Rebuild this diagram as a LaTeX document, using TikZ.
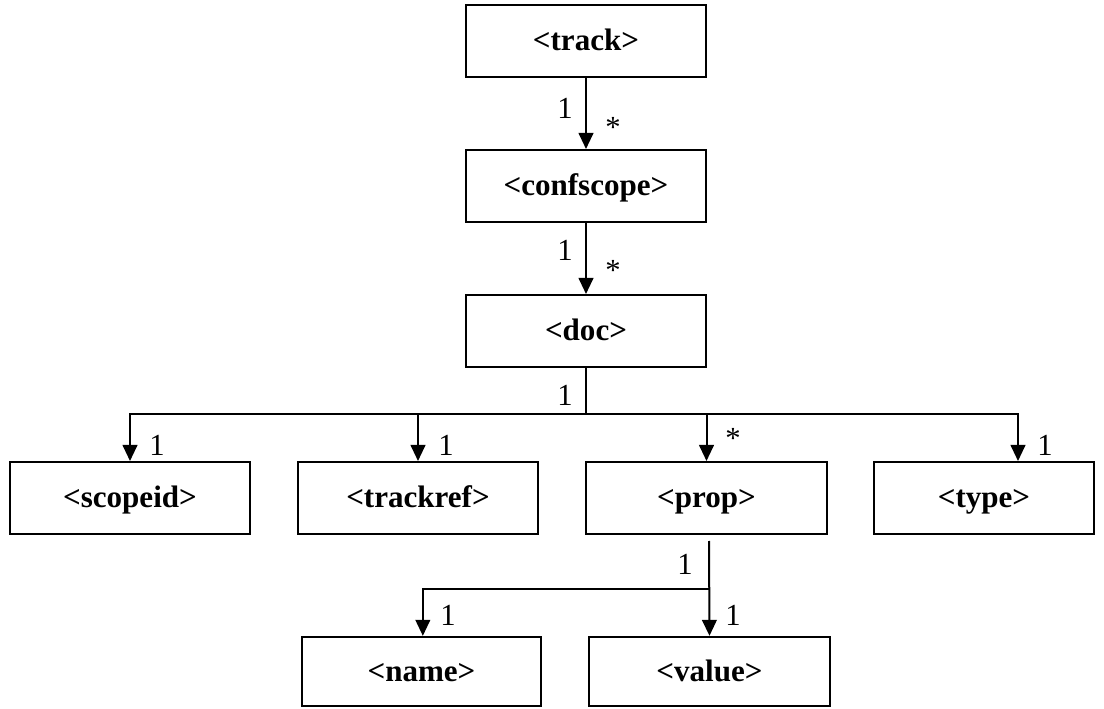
\documentclass[tikz,border=0pt]{standalone}
\usepackage{fontspec}
\setmainfont{Liberation Serif}
\usetikzlibrary{arrows.meta}
\begin{document}
\begin{tikzpicture}[x=0.75pt,y=-0.75pt,
  elem/.style={draw,line width=1.5pt,rectangle,inner sep=0pt,
    minimum width=180pt,minimum height=54pt,
    text height=18pt,text depth=3pt,
    font=\fontsize{23.3}{28}\selectfont\bfseries},
  mult/.style={inner sep=0pt,font=\fontsize{23}{28}\selectfont},
  link/.style={line width=1.5pt},
  arr/.style={line width=1.5pt,-{Triangle[length=12pt,width=11pt]}}]
\useasboundingbox (0,0) rectangle (1104,709);

% element boxes
\node[elem] (track)     at (586,41)  {<track>};
\node[elem] (confscope) at (586,186) {<confscope>};
\node[elem] (doc)       at (586,331) {<doc>};
\node[elem] (scopeid)   at (130,498) {<scopeid>};
\node[elem] (trackref)  at (418,498) {<trackref>};
\node[elem,minimum width=180.75pt] (prop) at (706.5,498) {<prop>};
\node[elem,minimum width=165pt] (type) at (984,498) {<type>};
\node[elem,minimum width=179.25pt,minimum height=52pt] (name)  at (421.5,671.5) {<name>};
\node[elem,minimum width=180.75pt,minimum height=52pt] (value) at (709.5,671.5) {<value>};

% track -> confscope -> doc
\draw[arr] (track.south) -- (confscope.north);
\draw[arr] (confscope.south) -- (doc.north);

% doc -> children
\coordinate (dj) at (586,414);
\draw[link] (doc.south) -- (dj);
\draw[arr] (dj) -| (scopeid.north);
\draw[arr] (dj) -| (trackref.north);
\draw[arr] (dj) -| (prop.north);
\draw[arr] (dj) -| ([xshift=25.5pt]type.north);

% prop -> children
\coordinate (ps) at (709,541);
\coordinate (pj) at (709,589);
\draw[arr] (ps) -- (value.north);
\draw[arr] (pj) -| ([xshift=1pt]name.north);

% multiplicities
\node[mult] (m1) at (565,108) {1};
\node[mult] (m2) at (613,127) {*};
\node[mult] (m3) at (565,250) {1};
\node[mult] (m4) at (613,270) {*};
\node[mult] (m5) at (565,395) {1};
\node[mult] (m6) at (157,445) {1};
\node[mult] (m7) at (446,445) {1};
\node[mult] (m8) at (733,438) {*};
\node[mult] (m9) at (1045,445) {1};
\node[mult] (m10) at (685,564) {1};
\node[mult] (m11) at (448,615) {1};
\node[mult] (m12) at (733,615) {1};
\end{tikzpicture}
\end{document}
